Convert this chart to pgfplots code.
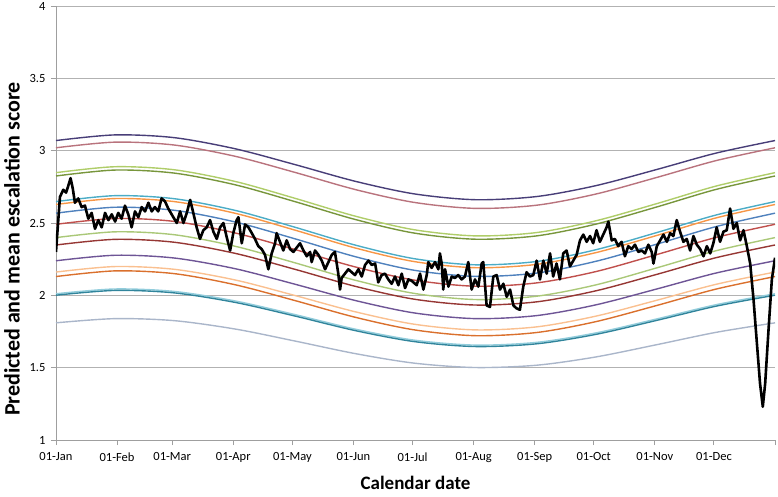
\documentclass[border=0pt]{standalone}
\usepackage{fontspec}
\setmainfont{Carlito}
\usepackage{pgfplots}
\usepackage{pgfplotstable}
\pgfplotsset{compat=1.18}

\definecolor{cNavy}{RGB}{72,62,120}
\definecolor{cMauve}{RGB}{185,115,125}
\definecolor{cGreenA}{RGB}{175,205,105}
\definecolor{cGreenB}{RGB}{120,150,60}
\definecolor{cCyan}{RGB}{75,172,198}
\definecolor{cOrange}{RGB}{247,150,70}
\definecolor{cSteel}{RGB}{79,129,189}
\definecolor{cRed}{RGB}{192,80,77}
\definecolor{cLGreen}{RGB}{170,200,120}
\definecolor{cDRed}{RGB}{150,55,52}
\definecolor{cPurple}{RGB}{110,85,150}
\definecolor{cLOrange}{RGB}{250,192,144}
\definecolor{cDOrange}{RGB}{218,112,45}
\definecolor{cLBlue}{RGB}{146,205,220}
\definecolor{cTeal}{RGB}{49,133,156}
\definecolor{cGrayBlue}{RGB}{170,182,202}

% predicted curves, day of year vs score
\pgfplotstableread{
d    c1    c2    c3    c4    c5    c6    c7    c8    c9    c10   c11   c12   c13   c14   c15   c16
0    3.070 3.020 2.848 2.825 2.648 2.628 2.568 2.491 2.399 2.348 2.239 2.161 2.130 2.011 2.001 1.810
30   3.109 3.059 2.889 2.866 2.689 2.669 2.609 2.531 2.439 2.387 2.277 2.199 2.169 2.044 2.034 1.839
60   3.090 3.039 2.868 2.845 2.668 2.648 2.588 2.511 2.419 2.367 2.258 2.180 2.150 2.027 2.017 1.825
91   3.013 2.961 2.787 2.764 2.587 2.567 2.507 2.431 2.339 2.290 2.184 2.106 2.073 1.961 1.951 1.767
121  2.905 2.851 2.672 2.649 2.472 2.452 2.392 2.318 2.226 2.181 2.078 2.000 1.965 1.868 1.858 1.685
152  2.788 2.731 2.547 2.524 2.347 2.327 2.267 2.196 2.104 2.062 1.964 1.886 1.848 1.766 1.756 1.597
182  2.701 2.642 2.453 2.430 2.253 2.233 2.173 2.105 2.013 1.973 1.878 1.800 1.761 1.690 1.680 1.531
213  2.661 2.601 2.411 2.388 2.211 2.191 2.131 2.063 1.971 1.933 1.839 1.761 1.721 1.656 1.646 1.501
244  2.683 2.623 2.434 2.411 2.234 2.214 2.154 2.086 1.994 1.955 1.860 1.782 1.743 1.675 1.665 1.517
274  2.758 2.700 2.515 2.492 2.315 2.295 2.235 2.164 2.072 2.031 1.934 1.856 1.818 1.740 1.730 1.574
305  2.870 2.815 2.634 2.611 2.434 2.414 2.354 2.282 2.190 2.145 2.044 1.966 1.930 1.837 1.827 1.659
335  2.983 2.931 2.755 2.732 2.555 2.535 2.475 2.400 2.308 2.260 2.154 2.076 2.043 1.935 1.925 1.744
365  3.070 3.020 2.848 2.825 2.648 2.628 2.568 2.491 2.399 2.348 2.239 2.161 2.130 2.011 2.001 1.810
}\curves

% observed mean score
\pgfplotstableread{
d v
0 2.30
2.0 2.68
3.7 2.73
5.1 2.71
6.3 2.76
7.4 2.81
8.5 2.74
9.6 2.64
11.3 2.67
13.0 2.61
14.7 2.62
16.4 2.53
18.1 2.57
19.8 2.46
21.5 2.52
23.2 2.47
24.9 2.57
26.6 2.52
28.3 2.56
30.0 2.51
31.6 2.57
33.3 2.53
35.0 2.62
36.7 2.56
38.4 2.47
40.1 2.58
41.8 2.54
43.5 2.61
45.2 2.58
46.9 2.64
48.6 2.58
50.2 2.61
51.9 2.58
53.6 2.67
55.3 2.65
57.0 2.60
58.7 2.56
61.3 2.50
63.0 2.58
64.7 2.50
66.4 2.57
68.1 2.66
69.7 2.57
71.4 2.47
73.1 2.39
74.8 2.45
76.5 2.47
78.2 2.52
79.9 2.44
81.6 2.39
83.3 2.47
85.0 2.50
86.7 2.40
88.4 2.31
90.0 2.43
91.7 2.52
92.6 2.54
94.3 2.36
96.0 2.49
97.7 2.47
99.4 2.43
101.0 2.39
102.7 2.34
104.4 2.32
106.1 2.28
107.8 2.18
109.5 2.29
111.2 2.36
112.0 2.43
113.7 2.37
115.4 2.31
117.1 2.38
118.8 2.32
120.5 2.30
122.2 2.33
123.9 2.36
125.6 2.31
127.3 2.27
129.0 2.30
129.8 2.23
131.5 2.31
133.2 2.28
134.9 2.24
136.6 2.18
138.3 2.23
140.0 2.28
141.6 2.30
143.3 2.15
144.2 2.04
145.0 2.12
146.7 2.15
148.4 2.18
150.1 2.16
151.8 2.14
153.5 2.18
155.2 2.13
156.9 2.21
158.6 2.24
160.3 2.21
162.0 2.22
163.6 2.09
165.3 2.14
167.0 2.15
168.7 2.11
170.4 2.08
172.1 2.13
173.8 2.07
175.5 2.15
177.2 2.05
178.9 2.11
180.6 2.10
183.1 2.07
184.8 2.15
186.5 2.04
188.2 2.14
189.0 2.23
190.7 2.19
192.4 2.23
194.1 2.18
194.9 2.29
195.8 2.22
196.6 2.04
197.5 2.18
199.2 2.06
200.9 2.13
202.5 2.12
204.2 2.14
205.9 2.11
207.6 2.13
209.3 2.23
211.0 2.04
212.7 2.11
214.4 2.06
216.1 2.22
216.9 2.23
218.6 1.93
220.3 1.92
222.0 2.13
223.7 2.14
225.4 2.04
227.1 2.08
228.8 1.99
230.5 2.04
232.2 1.93
233.8 1.91
235.5 1.90
237.2 2.06
238.9 2.16
240.6 2.13
242.3 2.14
244.0 2.24
245.7 2.11
247.4 2.24
249.1 2.15
250.8 2.29
252.4 2.13
254.1 2.22
255.8 2.11
257.5 2.29
259.2 2.31
260.9 2.20
262.6 2.24
264.3 2.28
266.0 2.38
267.7 2.42
269.4 2.37
271.1 2.41
272.7 2.36
274.4 2.45
276.1 2.37
277.8 2.42
279.5 2.47
280.4 2.51
282.1 2.38
283.7 2.39
285.4 2.34
287.1 2.37
288.8 2.27
290.5 2.34
292.2 2.32
293.9 2.35
295.6 2.30
297.3 2.31
299.0 2.29
300.7 2.35
302.4 2.30
303.3 2.22
305.0 2.34
306.7 2.38
308.4 2.42
310.1 2.37
311.8 2.43
313.4 2.41
315.1 2.52
316.8 2.44
318.5 2.37
320.2 2.39
321.9 2.31
323.6 2.41
325.3 2.35
327.0 2.32
328.7 2.27
330.4 2.34
332.1 2.29
333.7 2.36
335.4 2.47
337.1 2.37
338.8 2.44
340.5 2.45
342.2 2.60
343.9 2.46
345.6 2.50
347.3 2.38
349.0 2.45
350.7 2.34
352.4 2.22
354.1 1.97
355.8 1.67
357.4 1.39
358.8 1.23
360.0 1.39
361.7 1.76
363.4 2.11
365.0 2.26
}\observed

\begin{document}
\begin{tikzpicture}
\begin{axis}[
  anchor=south west,
  width=719pt, height=434pt, scale only axis,
  xmin=0, xmax=365, ymin=1, ymax=4,
  axis x line*=bottom, axis y line*=left,
  axis line style={-, gray!75, line width=0.9pt},
  xtick={0,31,59,90,120,151,181,212,243,273,304,334,365},
  xticklabels={01-Jan,01-Feb,01-Mar,01-Apr,01-May,01-Jun,01-Jul,01-Aug,01-Sep,01-Oct,01-Nov,01-Dec,{}},
  ytick={1,1.5,2,2.5,3,3.5,4},
  ymajorgrids,
  grid style={gray!60, line width=0.9pt},
  tick align=outside, major tick length=5pt,
  tick style={gray!75, line width=0.9pt},
  tick label style={font=\fontsize{12.5}{14}\selectfont},
  xticklabel style={yshift=-4pt},
  yticklabel style={xshift=-2pt},
  /pgf/number format/assume math mode=true,
  xlabel={Calendar date},
  ylabel={Predicted and mean escalation score},
  xlabel style={font=\fontsize{19}{21}\selectfont\bfseries,
    at={(axis description cs:0.5,0)}, anchor=center, yshift=-43pt},
  ylabel style={font=\fontsize{22}{24}\selectfont\bfseries,
    at={(axis description cs:0,0.44)}, anchor=center, yshift=44pt},
  every axis plot/.append style={smooth, line width=1.4pt},
]
\addplot[cNavy] table[x=d, y=c1] {\curves};
\addplot[cMauve] table[x=d, y=c2] {\curves};
\addplot[cGreenA] table[x=d, y=c3] {\curves};
\addplot[cGreenB] table[x=d, y=c4] {\curves};
\addplot[cCyan] table[x=d, y=c5] {\curves};
\addplot[cOrange] table[x=d, y=c6] {\curves};
\addplot[cSteel] table[x=d, y=c7] {\curves};
\addplot[cRed] table[x=d, y=c8] {\curves};
\addplot[cLGreen] table[x=d, y=c9] {\curves};
\addplot[cDRed] table[x=d, y=c10] {\curves};
\addplot[cPurple] table[x=d, y=c11] {\curves};
\addplot[cLOrange] table[x=d, y=c12] {\curves};
\addplot[cDOrange] table[x=d, y=c13] {\curves};
\addplot[cLBlue] table[x=d, y=c14] {\curves};
\addplot[cTeal] table[x=d, y=c15] {\curves};
\addplot[cGrayBlue] table[x=d, y=c16] {\curves};
\addplot[black, sharp plot, line width=2.6pt, line join=round] table[x=d, y=v] {\observed};
\end{axis}
\pgfresetboundingbox
\path (-56pt,-56pt) rectangle (722pt,440pt);
\end{tikzpicture}
\end{document}
